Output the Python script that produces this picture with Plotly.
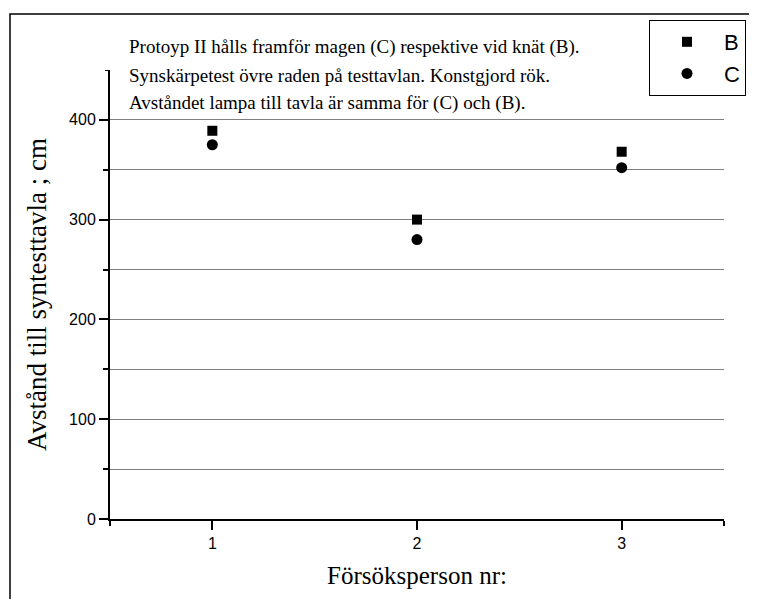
import plotly.graph_objects as go

subjects = [1, 2, 3]
b_values = [389, 300, 368]
c_values = [375, 280, 352]
x_ticks = [1, 2, 3]
y_ticks = [0, 100, 200, 300, 400]
y_minor = [50, 150, 250, 350]
notes = [
    "Protoyp II hålls framför magen (C) respektive vid knät (B).",
    "Synskärpetest övre raden på testtavlan. Konstgjord rök.",
    "Avståndet lampa till tavla är samma för (C) och (B).",
]

OFF = 8  # browser body margin
W, H = 757 - OFF, 599 - OFF
L, R, T, B = 110 - OFF, 33, 70 - OFF, 80
pw, ph = W - L - R, H - T - B
Y_TOP = 449.9

def px(x):
    return (x - OFF - L) / pw

def py(y):
    return (H - B - (y - OFF)) / ph

fig = go.Figure()
fig.add_trace(go.Scatter(x=subjects, y=b_values, mode="markers", name="B",
                         marker=dict(symbol="square", size=10, color="black")))
fig.add_trace(go.Scatter(x=subjects, y=c_values, mode="markers", name="C",
                         marker=dict(symbol="circle", size=11, color="black")))

axis_font = dict(family="Liberation Sans, Arial", size=16, color="black")
serif = "Liberation Serif, Times New Roman"

fig.update_layout(
    width=W, height=H,
    margin=dict(l=L, r=R, t=T, b=B, autoexpand=False),
    paper_bgcolor="white", plot_bgcolor="white",
    showlegend=True,
    legend=dict(x=px(649), y=py(20), xanchor="left", yanchor="top",
                bordercolor="black", borderwidth=1, bgcolor="white",
                font=dict(family="Liberation Sans, Arial", size=22, color="black"),
                itemwidth=64, tracegroupgap=0),
    xaxis=dict(range=[0.5, 3.5], tickvals=x_ticks, ticktext=[str(v) for v in x_ticks],
               showgrid=False, zeroline=False, showline=True, linecolor="black", linewidth=2,
               ticks="outside", ticklen=9, tickwidth=2, tickcolor="black",
               tickfont=axis_font,
               minor=dict(tickvals=[0.5, 3.5], ticks="outside", ticklen=5, tickwidth=2,
                          tickcolor="black", showgrid=False),
               title=dict(text="Försöksperson nr:", font=dict(family=serif, size=25, color="black"),
                          standoff=15)),
    yaxis=dict(range=[0, Y_TOP], tickvals=y_ticks, ticktext=[str(v) for v in y_ticks],
               showgrid=True, gridcolor="#7f7f7f", gridwidth=1,
               zeroline=False, showline=True, linecolor="black", linewidth=2,
               ticks="outside", ticklen=9, tickwidth=2, tickcolor="black",
               tickfont=axis_font,
               minor=dict(tickvals=y_minor, ticks="outside", ticklen=5,
                          tickwidth=2, tickcolor="black", showgrid=True,
                          gridcolor="#7f7f7f", gridwidth=1),
               title=dict(text="Avstånd till syntesttavla ; cm",
                          font=dict(family=serif, size=27, color="black"), standoff=15)),
)

# outer frame
fig.add_shape(type="rect", xref="paper", yref="paper",
              x0=px(10), x1=px(775), y0=py(620), y1=py(14),
              line=dict(color="black", width=1.5), fillcolor="rgba(0,0,0,0)", layer="below")
# small end tick at the top of the y axis
fig.add_shape(type="line", xref="paper", yref="y", x0=px(105), x1=px(110), y0=Y_TOP, y1=Y_TOP,
              line=dict(color="black", width=2))

for i, t in enumerate(notes):
    fig.add_annotation(text=t, xref="paper", yref="paper", x=px(127), y=py(47 + 28 * i),
                       xanchor="left", yanchor="middle", showarrow=False,
                       font=dict(family=serif, size=19, color="black"))

fig.write_html("out.html")
